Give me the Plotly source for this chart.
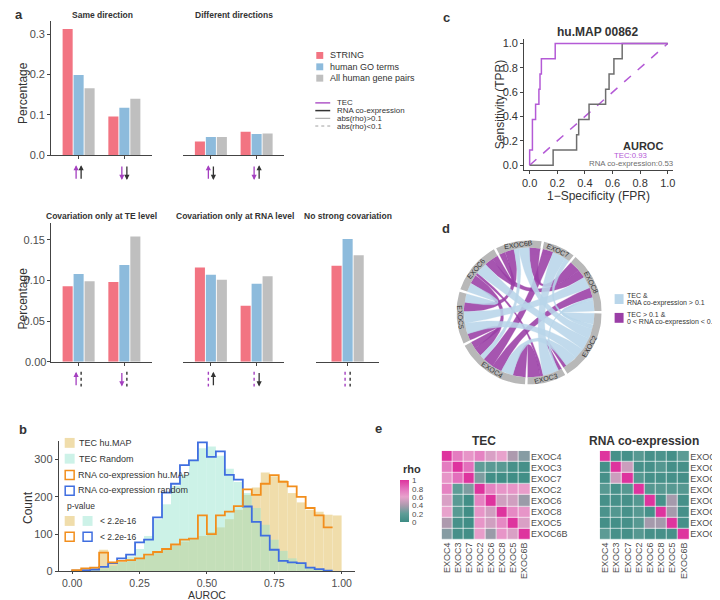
import numpy as np
import plotly.graph_objects as go

W, H = 720, 600
FONT = "Liberation Sans, Arial, Helvetica, sans-serif"

# ---------------- panel a data ----------------
legend_a = ["STRING", "human GO terms", "All human gene pairs"]
legend_lines = ["TEC", "RNA co-expression", "abs(rho)>0.1", "abs(rho)<0.1"]
groups_same = ["↑↑", "↓↓"]
same_string = [0.313, 0.096]
same_go = [0.199, 0.118]
same_all = [0.166, 0.140]
groups_diff = ["↑↓", "↓↑"]
diff_string = [0.034, 0.058]
diff_go = [0.045, 0.053]
diff_all = [0.045, 0.054]
groups_te = ["↑┊", "↓┊"]
te_string = [0.093, 0.098]
te_go = [0.108, 0.119]
te_all = [0.099, 0.154]
groups_rna = ["┊↑", "┊↓"]
rna_string = [0.116, 0.069]
rna_go = [0.107, 0.096]
rna_all = [0.101, 0.105]
groups_none = ["┊┊"]
none_string = [0.118]
none_go = [0.151]
none_all = [0.131]

# ---------------- panel b data (30 bins over AUROC 0..1) ----------------
tec_humap = [0, 3, 8, 58, 22, 25, 30, 35, 42, 50, 58, 68, 80, 88, 95, 105, 118, 140, 165, 205,
             225, 265, 255, 245, 210, 185, 165, 160, 152, 150]
tec_random = [0, 1, 3, 8, 15, 25, 40, 60, 95, 140, 180, 230, 260, 300, 330, 335, 310, 275, 240, 210,
              170, 125, 85, 55, 35, 20, 10, 5, 2, 0]
rna_humap = [3, 8, 10, 50, 24, 28, 30, 35, 45, 52, 60, 72, 85, 88, 150, 100, 150, 160, 175, 220,
             205, 235, 258, 240, 228, 200, 170, 150, 118]
rna_random = [2, 3, 5, 12, 22, 35, 45, 78, 85, 145, 211, 235, 285, 298, 346, 307, 322, 259, 246, 174,
              133, 96, 58, 28, 24, 22, 10, 6, 2]
n_bins = 30

# ---------------- panel c data ----------------
tec_fpr = [0, 0, 0.02, 0.02, 0.043, 0.043, 0.067, 0.067, 0.075, 0.075, 0.085, 0.085, 0.185, 0.185, 1.0]
tec_tpr = [0, 0.125, 0.125, 0.375, 0.375, 0.5, 0.5, 0.625, 0.625, 0.75, 0.75, 0.875, 0.875, 1.0, 1.0]
rna_fpr = [0, 0.17, 0.17, 0.34, 0.34, 0.355, 0.355, 0.43, 0.43, 0.55, 0.55, 0.575, 0.575, 0.61, 0.61, 0.67, 0.67, 1.0]
rna_tpr = [0, 0, 0.125, 0.125, 0.25, 0.25, 0.375, 0.375, 0.5, 0.5, 0.625, 0.625, 0.75, 0.75, 0.875, 0.875, 1.0, 1.0]
auroc_tec = 0.93
auroc_rna = 0.53

# ---------------- panel d / e data ----------------
genes = ["EXOC4", "EXOC3", "EXOC7", "EXOC2", "EXOC6", "EXOC8", "EXOC5", "EXOC6B"]
tec_rho = [
    [1.00, 0.75, 0.65, 0.72, 0.55, 0.60, 0.40, 0.30],
    [0.75, 1.00, 0.80, 0.20, 0.17, 0.16, 0.06, 0.05],
    [0.65, 0.80, 1.00, 0.28, 0.03, 0.02, 0.02, 0.03],
    [0.72, 0.20, 0.28, 1.00, 0.72, 0.65, 0.65, 0.62],
    [0.55, 0.17, 0.03, 0.72, 1.00, 0.52, 0.52, 0.35],
    [0.60, 0.16, 0.02, 0.65, 0.52, 1.00, 0.70, 0.65],
    [0.40, 0.06, 0.02, 0.65, 0.52, 0.70, 1.00, 0.55],
    [0.30, 0.05, 0.03, 0.62, 0.35, 0.65, 0.55, 1.00],
]
rna_rho = [
    [1.00, 0.05, 0.05, 0.15, 0.05, 0.08, 0.04, 0.18],
    [0.05, 1.00, 0.50, 0.06, 0.05, 0.13, 0.04, 0.05],
    [0.05, 0.50, 1.00, 0.14, 0.05, 0.06, 0.05, 0.04],
    [0.15, 0.06, 0.14, 1.00, 0.14, 0.15, 0.15, 0.14],
    [0.05, 0.05, 0.05, 0.14, 1.00, 0.06, 0.38, 0.05],
    [0.08, 0.13, 0.06, 0.15, 0.06, 1.00, 0.38, 0.05],
    [0.04, 0.04, 0.05, 0.15, 0.38, 0.38, 1.00, 0.05],
    [0.18, 0.05, 0.04, 0.14, 0.05, 0.05, 0.05, 1.00],
]
chord_order = ["EXOC6B", "EXOC7", "EXOC8", "EXOC2", "EXOC3", "EXOC4", "EXOC5", "EXOC6"]
rho_ticks = [0, 0.2, 0.4, 0.6, 0.8, 1]

# ---------------- colours ----------------
RED, BLUE, GRAY = "#f27482", "#8dbbdc", "#bfbfbf"
PURPLE, DARK = "#a43fc0", "#333333"
ROC_PURPLE, ROC_GRAY = "#b45ad6", "#6e6e6e"
TAN, MINT, ORANGE, HBLUE = "#e3c266", "#8fe3cb", "#f28e1c", "#3f6ee0"
TAN_KEY, MINT_KEY = "#f0ddab", "#cdf2e8"
CH_BLUE, CH_PURPLE = "#b9d6ea", "#9a3ea6"
AX = "#444444"
TICKC = "#4d4d4d"


def px(x):
    return x / W


def py(y):
    return 1 - y / H


def xd(a, b):
    return [a / W, b / W]


def yd(top, bottom):
    return [1 - bottom / H, 1 - top / H]


fig = go.Figure()
layout = dict(width=W, height=H, margin=dict(l=0, r=0, t=0, b=0),
              paper_bgcolor="white", plot_bgcolor="white", showlegend=False,
              barmode="overlay", font=dict(family=FONT, size=10, color=DARK))
annotations, shapes = [], []


def ann(text, x, y, size=10, color=DARK, bold=False, xanchor="center", yanchor="middle", angle=0,
        family=FONT, align="center"):
    annotations.append(dict(text=f"<b>{text}</b>" if bold else text, x=px(x), y=py(y), xref="paper",
                            yref="paper", showarrow=False, font=dict(size=size, color=color, family=family),
                            xanchor=xanchor, yanchor=yanchor, textangle=angle, align=align))


def rect(x0, y0, x1, y1, fill, line=None, lw=0):
    shapes.append(dict(type="rect", xref="paper", yref="paper", x0=px(x0), x1=px(x1), y0=py(y1), y1=py(y0),
                       fillcolor=fill, line=dict(color=line or fill, width=lw)))


def seg(x0, y0, x1, y1, color, width=1, dash="solid"):
    shapes.append(dict(type="line", xref="paper", yref="paper", x0=px(x0), x1=px(x1), y0=py(y0), y1=py(y1),
                       line=dict(color=color, width=width, dash=dash)))


def base_axis(**kw):
    d = dict(showgrid=False, zeroline=False, fixedrange=True)
    d.update(kw)
    return d


def direction_mark(k, xpos, ch, color, ytop, ybot):
    """Draw a direction arrow (↑/↓) or a dotted bar (┊) below a bar group."""
    L = ybot - ytop
    if ch == "┊":
        shapes.append(dict(type="line", xref=f"x{k}", yref="paper", x0=xpos, x1=xpos, y0=py(ytop), y1=py(ybot),
                           line=dict(color=color, width=1.4, dash="dot")))
    else:
        up = ch == "↑"
        annotations.append(dict(text="", xref=f"x{k}", yref="paper", x=xpos, y=py(ytop if up else ybot),
                                showarrow=True, axref="pixel", ayref="pixel", ax=0, ay=L if up else -L,
                                arrowhead=2, arrowsize=0.8, arrowwidth=1.3, arrowcolor=color))


# ================= panel a =================
TOP = (12, 148)
BOT = (217, 357)
panels_a = [
    (1, groups_same, same_string, same_go, same_all, (41.4, 142.6), TOP, [0, 0.333], [0, 0.1, 0.2, 0.3], ".1f", True,
     "Same direction", 93, 6, (158, 173)),
    (2, groups_diff, diff_string, diff_go, diff_all, (174.4, 275.6), TOP, [0, 0.333], [], ".1f", False,
     "Different directions", 225, 6, (158, 173)),
    (3, groups_te, te_string, te_go, te_all, (41.4, 142.6), BOT, [0, 0.17], [0, 0.05, 0.10, 0.15], ".2f", True,
     "Covariation only at TE level", 92, 209, (367, 382)),
    (4, groups_rna, rna_string, rna_go, rna_all, (174.4, 275.6), BOT, [0, 0.17], [], ".2f", False,
     "Covariation only at RNA level", 226, 209, (367, 382)),
    (5, groups_none, none_string, none_go, none_all, (308, 371), BOT, [0, 0.17], [], ".2f", False,
     "No strong covariation", 340, 209, (367, 382)),
]
for (k, groups, s, g, a, xdom, ydom, yr, ytv, yfmt, showy, title, tx, ty, arr) in panels_a:
    xa, ya = f"x{k}", f"y{k}"
    for i, (vals, col) in enumerate([(s, RED), (g, BLUE), (a, GRAY)]):
        fig.add_bar(x=groups, y=vals, width=0.22, offset=-0.35 + i * 0.24,
                    marker=dict(color=col, line=dict(width=0)), xaxis=xa, yaxis=ya)
    n = len(groups)
    pad = 0.6 if n > 1 else 0.68
    layout[f"xaxis{k}"] = base_axis(domain=xd(*xdom), anchor=ya, type="category",
                                    range=[-pad, n - 1 + pad], showline=True, linecolor=AX, linewidth=1,
                                    ticks="outside", ticklen=3, tickcolor=AX, showticklabels=False)
    ttext = [format(v, yfmt) for v in ytv]
    if k == 3:
        ttext[0] = ""   # bottom label drawn as an annotation below
    layout[f"yaxis{k}"] = base_axis(domain=yd(*ydom), anchor=xa, range=yr, showline=showy, linecolor=AX,
                                    linewidth=1, ticks="outside" if showy else "", ticklen=3, tickcolor=AX,
                                    tickvals=ytv, ticktext=ttext,
                                    showticklabels=showy, tickfont=dict(size=11, color=TICKC))
    ann(title, tx, ty, size=8.5, bold=True)
    for gi, grp in enumerate(groups):
        direction_mark(k, gi - 0.055, grp[0], PURPLE, *arr)
        direction_mark(k, gi + 0.055, grp[1], DARK, *arr)

ann(format(0, ".2f"), 38.5, BOT[1], size=11, color=TICKC, xanchor="right")
ann("Percentage", 13, 85, size=12, angle=-90)
ann("Percentage", 13, 293, size=12, angle=-90)

# legend a
for i, (lab, col) in enumerate(zip(legend_a, [RED, BLUE, GRAY])):
    yc = 47 + i * 11.5
    rect(308, yc - 3.5, 315, yc + 3.5, col)
    ann(lab, 320, yc, size=9, xanchor="left")
line_styles = [(PURPLE, 1.3, "solid"), (DARK, 1.5, "solid"), ("#888888", 0.8, "solid"), ("#888888", 0.8, "dot")]
for i, (lab, (col, lw, dsh)) in enumerate(zip(legend_lines, line_styles)):
    yc = 95 + i * 7.8
    seg(307, yc, 322, yc, col, lw, dsh)
    ann(lab, 327, yc, size=7.9, xanchor="left")

ann("a", 3, 6, size=13, bold=True, xanchor="left")

# ================= panel c =================
fig.add_scatter(x=[0, 1], y=[0, 1], mode="lines", line=dict(color=ROC_PURPLE, width=1.5, dash="dash"),
                xaxis="x6", yaxis="y6")
fig.add_scatter(x=rna_fpr, y=rna_tpr, mode="lines", line=dict(color=ROC_GRAY, width=1.5), xaxis="x6", yaxis="y6")
fig.add_scatter(x=tec_fpr, y=tec_tpr, mode="lines", line=dict(color=ROC_PURPLE, width=1.5), xaxis="x6", yaxis="y6")
tick01 = [0, 0.2, 0.4, 0.6, 0.8, 1.0]
layout["xaxis6"] = base_axis(domain=xd(517, 667), anchor="y6", range=[-0.04, 1.04], showline=True, linecolor=AX,
                             linewidth=1, ticks="outside", ticklen=3, tickcolor=AX, tickvals=tick01,
                             tickformat=".1f", tickfont=dict(size=11, color=DARK))
layout["yaxis6"] = base_axis(domain=yd(30, 163), anchor="x6", range=[-0.04, 1.04], showline=True, linecolor=AX,
                             linewidth=1, ticks="outside", ticklen=3, tickcolor=AX, tickvals=tick01,
                             tickformat=".1f", tickfont=dict(size=11, color=DARK))
ann("hu.MAP 00862", 591, 23, size=12, bold=True)
ann("Sensitivity (TPR)", 493, 97, size=12, angle=-90)
ann("1−Specificity (FPR)", 592, 189, size=12)
ann("AUROC", 637, 139, size=11, bold=True)
ann(f"TEC:{auroc_tec:.2f}", 624, 148.5, size=7.8, color=ROC_PURPLE)
ann(f"RNA co-expression:{auroc_rna:.2f}", 624, 156, size=7.8, color=ROC_GRAY)
ann("c", 433, 9, size=13, bold=True, xanchor="left")

# ================= panel d (chord) =================
links = []
for i in range(len(genes)):
    for j in range(i + 1, len(genes)):
        t, r = tec_rho[i][j], rna_rho[i][j]
        if t > 0.1 and r > 0.1:
            links.append((genes[i], genes[j], t, CH_BLUE))
        elif t > 0.1 and 0 < r < 0.1:
            links.append((genes[i], genes[j], t, CH_PURPLE))
nS = len(chord_order)
pos = {g: i for i, g in enumerate(chord_order)}
totals = {g: sum(l[2] for l in links if g in (l[0], l[1])) for g in chord_order}
gap = 2.0
scale = (360 - nS * gap) / sum(totals.values())
start = -27.0
sector = {}
cur = start
for g in chord_order:
    sector[g] = (cur, cur + totals[g] * scale)
    cur += totals[g] * scale + gap
ends = {}
for g in chord_order:
    mine = [(k, l) for k, l in enumerate(links) if g in (l[0], l[1])]

    def order_key(item, g=g):
        k, l = item
        other = l[1] if l[0] == g else l[0]
        return (pos[g] - pos[other]) % nS
    mine.sort(key=order_key)
    a = sector[g][0]
    for k, l in mine:
        w = l[2] * scale
        ends[(k, g)] = (a, a + w)
        a += w


def pt(theta_deg, r):
    t = np.radians(theta_deg)
    return r * np.sin(t), r * np.cos(t)


def arc(t0, t1, r, n=24):
    th = np.linspace(t0, t1, n)
    return [pt(t, r) for t in th]


def bez(p0, p2, n=30):
    tt = np.linspace(0, 1, n)
    return [((1 - s) ** 2 * p0[0] + s ** 2 * p2[0], (1 - s) ** 2 * p0[1] + s ** 2 * p2[1]) for s in tt]


RC = 0.9
for colr in [CH_PURPLE, CH_BLUE]:
    for k, l in enumerate(links):
        if l[3] != colr:
            continue
        a1, a2 = ends[(k, l[0])]
        b1, b2 = ends[(k, l[1])]
        path = arc(a1, a2, RC) + bez(pt(a2, RC), pt(b1, RC)) + arc(b1, b2, RC) + bez(pt(b2, RC), pt(a1, RC))
        fig.add_scatter(x=[p[0] for p in path], y=[p[1] for p in path], mode="lines", fill="toself",
                        fillcolor=colr, opacity=0.88, line=dict(width=0.3, color=colr),
                        xaxis="x7", yaxis="y7", hoverinfo="skip")
for g in chord_order:
    s0, s1 = sector[g]
    path = arc(s0, s1, 1.0) + arc(s1, s0, 0.9)
    fig.add_scatter(x=[p[0] for p in path], y=[p[1] for p in path], mode="lines", fill="toself",
                    fillcolor="#b8b8b8", line=dict(width=0, color="#b8b8b8"), xaxis="x7", yaxis="y7",
                    hoverinfo="skip")
    m = (s0 + s1) / 2
    mm = ((m + 180) % 360) - 180
    ang = mm if -90 < mm <= 90 else mm - 180
    lx, ly = pt(m, 0.95)
    annotations.append(dict(text=g, x=lx, y=ly, xref="x7", yref="y7", showarrow=False, textangle=ang,
                            font=dict(size=7, color="#333333", family=FONT), xanchor="center", yanchor="middle"))
layout["xaxis7"] = base_axis(domain=xd(449, 595), anchor="y7", range=[-1.0, 1.0], visible=False)
layout["yaxis7"] = base_axis(domain=yd(234, 380), anchor="x7", range=[-1.0, 1.0], visible=False)
rect(608, 288.5, 617, 298.5, CH_BLUE)
ann("TEC &", 618.5, 290, size=7, xanchor="left")
ann("RNA co-expression > 0.1", 618.5, 297.5, size=7, xanchor="left")
rect(608, 307.5, 617, 317.5, CH_PURPLE)
ann("TEC > 0.1 &", 618.5, 309, size=7, xanchor="left")
ann("0 &lt; RNA co-expression &lt; 0.1", 618.5, 316.5, size=7, xanchor="left")
ann("d", 432, 222, size=13, bold=True, xanchor="left")

# ================= panel b (histogram) =================
edges = np.linspace(0, 1, n_bins + 1)
centers = (edges[:-1] + edges[1:]) / 2
fig.add_bar(x=centers, y=tec_humap, width=1 / n_bins, marker=dict(color=TAN, line=dict(width=0)), opacity=0.55,
            xaxis="x8", yaxis="y8")
fig.add_bar(x=centers, y=tec_random, width=1 / n_bins, marker=dict(color=MINT, line=dict(width=0)), opacity=0.45,
            xaxis="x8", yaxis="y8")
for vals, col in [(rna_random, HBLUE), (rna_humap, ORANGE)]:
    nb = len(vals)
    xs = [edges[0]] + list(edges[:nb + 1])
    ys = [0] + list(vals) + [vals[-1]]
    fig.add_scatter(x=xs, y=ys, mode="lines", line=dict(color=col, width=1.8, shape="hv"), xaxis="x8", yaxis="y8")
layout["xaxis8"] = base_axis(domain=xd(49, 347), anchor="y8", range=[-0.05, 1.05], showline=True, linecolor=AX,
                             linewidth=1, ticks="outside", ticklen=2, tickcolor=AX,
                             tickvals=[0, 0.25, 0.5, 0.75, 1.0], ticktext=["0.00", "0.25", "0.50", "0.75", "1.00"],
                             tickfont=dict(size=10.5, color=TICKC))
layout["yaxis8"] = base_axis(domain=yd(437, 569), anchor="x8", range=[0, 350], showline=True, linecolor=AX,
                             linewidth=1, ticks="outside", ticklen=3, tickcolor=AX, tickvals=[0, 100, 200, 300],
                             tickfont=dict(size=11, color=TICKC))
ann("Count", 18, 504, size=12, angle=-90)
ann("AUROC", 198, 593, size=10.5)
rect(55, 434, 65, 444, TAN_KEY)
ann("TEC hu.MAP", 67, 439, size=9, xanchor="left")
rect(55, 450, 65, 460, MINT_KEY)
ann("TEC Random", 67, 455, size=9, xanchor="left")
rect(55.5, 467, 64.5, 476, "rgba(0,0,0,0)", ORANGE, 1.5)
ann("RNA co-expression hu.MAP", 66, 472, size=9, xanchor="left")
rect(55.5, 483, 64.5, 492, "rgba(0,0,0,0)", HBLUE, 1.5)
ann("RNA co-expression random", 66, 487, size=9, xanchor="left")
ann("p-value", 55, 503, size=8.5, xanchor="left")
rect(55, 513, 65, 523, TAN_KEY)
rect(73, 513, 83, 523, MINT_KEY)
ann("&lt; 2.2e-16", 88, 518, size=8.5, xanchor="left")
rect(55.5, 529.5, 64.5, 538.5, "rgba(0,0,0,0)", ORANGE, 1.5)
rect(73.5, 529.5, 82.5, 538.5, "rgba(0,0,0,0)", HBLUE, 1.5)
ann("&lt; 2.2e-16", 88, 534, size=8.5, xanchor="left")
ann("b", 7, 425, size=13, bold=True, xanchor="left")

# ================= panel e (heatmaps) =================
colorscale = [[0.0, "#3d8c84"], [0.2, "#5f9d97"], [0.4, "#ad9aae"], [0.6, "#e8a2cc"], [0.8, "#e36fbc"],
              [1.0, "#de349e"]]
for k, mat, xdom in [(9, tec_rho, (434, 523)), (10, rna_rho, (593, 683))]:
    fig.add_heatmap(z=mat, x=genes, y=genes, coloraxis="coloraxis", xgap=0.7, ygap=0.7,
                    xaxis=f"x{k}", yaxis=f"y{k}")
    layout[f"xaxis{k}"] = base_axis(domain=xd(*xdom), anchor=f"y{k}", type="category", tickangle=-90,
                                    ticks="", showline=False, tickfont=dict(size=9, color=TICKC))
    layout[f"yaxis{k}"] = base_axis(domain=yd(447, 537), anchor=f"x{k}", type="category", side="right",
                                    autorange="reversed", ticks="", showline=False,
                                    tickfont=dict(size=9, color=TICKC))
layout["coloraxis"] = dict(colorscale=colorscale, cmin=0, cmax=1,
                           colorbar=dict(x=px(392), xanchor="left", y=py(477), yanchor="top", len=42 / H,
                                         lenmode="fraction", thickness=9, outlinewidth=0,
                                         title=dict(text=""), tickangle=0,
                                         tickvals=rho_ticks, ticktext=[f"{v:g}" for v in rho_ticks],
                                         tickfont=dict(size=8, color=TICKC), ticklen=2,
                                         ticks="outside", tickcolor="white", xpad=0, ypad=0))
ann("rho", 393, 465, size=11, bold=True, xanchor="left")
ann("TEC", 477, 437, size=12, bold=True)
ann("RNA co-expression", 638, 437, size=12, bold=True)
ann("e", 365, 424, size=13, bold=True, xanchor="left")

layout["annotations"] = annotations
layout["shapes"] = shapes
fig.update_layout(**layout)
fig.write_html("out.html")
